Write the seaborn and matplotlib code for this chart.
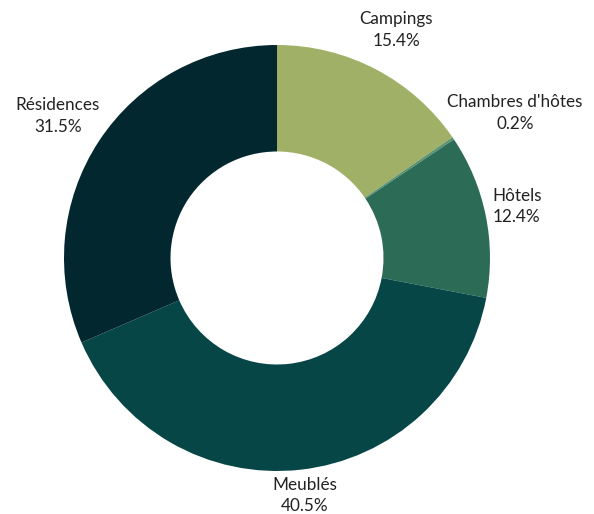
import numpy as np
import matplotlib
matplotlib.use("Agg")
import matplotlib.pyplot as plt
import seaborn as sns

categories = ["Campings", "Chambres d'hôtes", "Hôtels", "Meublés", "Résidences"]
values = [15.4, 0.2, 12.4, 40.5, 31.5]
colors = ["#a0b066", "#5c9470", "#2c6b56", "#064647", "#02272e"]

sns.set_theme(style="white")
plt.rcParams['font.family'] = ['Lato', 'DejaVu Sans']

fig = plt.figure(figsize=(5.94, 5.14), dpi=100)
ax = fig.add_axes([0, 0, 1, 1])
R = 1.0
wedges, _ = ax.pie(values, colors=colors, startangle=90, counterclock=False,
                   radius=R, wedgeprops=dict(width=0.5 * R, linewidth=0))
ax.set_xlim(-277 / 213, (594 - 277) / 213)
ax.set_ylim(-256 / 213, 258 / 213)
ax.set_aspect('equal')
ax.axis('off')

fig.canvas.draw()
renderer = fig.canvas.get_renderer()
d = 1.033 * R
for w, cat, v in zip(wedges, categories, values):
    ang = np.deg2rad((w.theta1 + w.theta2) / 2)
    c, s = np.cos(ang), np.sin(ang)
    t = ax.text(d * c, d * s, f"{cat}\n{v:.1f}%", ha='center', va='center',
                fontsize=12.3, color='#222222', linespacing=1.45)
    bb = t.get_window_extent(renderer)
    dx_pix = bb.width / 2 * c
    dy_pix = bb.height * s if s > 0 else bb.height / 2 * s
    x0, y0 = ax.transData.transform((d * c, d * s))
    nx, ny = ax.transData.inverted().transform((x0 + dx_pix, y0 + dy_pix))
    t.set_position((nx, ny))

fig.savefig("out.png", dpi=100)
